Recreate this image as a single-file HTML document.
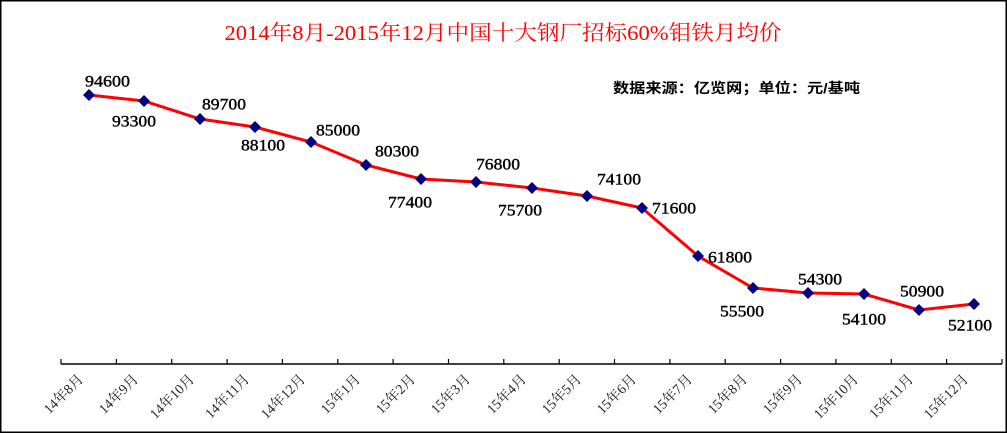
<!DOCTYPE html>
<html><head><meta charset="utf-8"><style>
html,body{margin:0;padding:0;background:#fff}
svg{display:block}
</style></head><body>
<svg width="1007" height="433" xmlns="http://www.w3.org/2000/svg">
<rect x="0.5" y="0.5" width="1006" height="432" fill="#fff" stroke="#000" stroke-width="2"/>
<text x="503" y="40" text-anchor="middle" fill="#ff0000" font-family="Liberation Serif, Noto Serif CJK SC, serif" font-size="21" textLength="557" lengthAdjust="spacingAndGlyphs">2014年8月-2015年12月中国十大钢厂招标60%钼铁月均价</text>
<text x="613" y="93" fill="#000" font-weight="bold" font-family="Liberation Sans, Noto Sans CJK SC, sans-serif" font-size="14" textLength="247" lengthAdjust="spacingAndGlyphs">数据来源：亿览网；单位：元/基吨</text>
<g stroke="#000" stroke-width="1.5">
<line x1="61" y1="364" x2="1002" y2="364"/>
</g>
<g stroke="#000" stroke-width="1.2">
<line x1="61" y1="359" x2="61" y2="364"/><line x1="116.4" y1="359" x2="116.4" y2="364"/><line x1="171.7" y1="359" x2="171.7" y2="364"/><line x1="227.1" y1="359" x2="227.1" y2="364"/><line x1="282.4" y1="359" x2="282.4" y2="364"/><line x1="337.8" y1="359" x2="337.8" y2="364"/><line x1="393.1" y1="359" x2="393.1" y2="364"/><line x1="448.5" y1="359" x2="448.5" y2="364"/><line x1="503.8" y1="359" x2="503.8" y2="364"/><line x1="559.2" y1="359" x2="559.2" y2="364"/><line x1="614.5" y1="359" x2="614.5" y2="364"/><line x1="669.9" y1="359" x2="669.9" y2="364"/><line x1="725.2" y1="359" x2="725.2" y2="364"/><line x1="780.6" y1="359" x2="780.6" y2="364"/><line x1="835.9" y1="359" x2="835.9" y2="364"/><line x1="891.3" y1="359" x2="891.3" y2="364"/><line x1="946.6" y1="359" x2="946.6" y2="364"/><line x1="1002" y1="359" x2="1002" y2="364"/>
</g>
<polyline fill="none" stroke="#ff0000" stroke-width="3" points="89,95 144,101 200,119 255,127 311,142 366,165 421,179 476,182 532,188 587,196 642,208 698,256 753,288 808,293 864,294 919,310 974,304"/>
<g fill="#000080">
<path d="M89 89l6 6-6 6-6-6z"/><path d="M144 95l6 6-6 6-6-6z"/><path d="M200 113l6 6-6 6-6-6z"/><path d="M255 121l6 6-6 6-6-6z"/><path d="M311 136l6 6-6 6-6-6z"/><path d="M366 159l6 6-6 6-6-6z"/><path d="M421 173l6 6-6 6-6-6z"/><path d="M476 176l6 6-6 6-6-6z"/><path d="M532 182l6 6-6 6-6-6z"/><path d="M587 190l6 6-6 6-6-6z"/><path d="M642 202l6 6-6 6-6-6z"/><path d="M698 250l6 6-6 6-6-6z"/><path d="M753 282l6 6-6 6-6-6z"/><path d="M808 287l6 6-6 6-6-6z"/><path d="M864 288l6 6-6 6-6-6z"/><path d="M919 304l6 6-6 6-6-6z"/><path d="M974 298l6 6-6 6-6-6z"/>
</g>
<g font-family="Liberation Serif, serif" font-size="16" fill="#000" stroke="#000" stroke-width="0.4" dominant-baseline="central">
<text x="85" y="82" textLength="45" lengthAdjust="spacingAndGlyphs">94600</text>
<text x="112" y="122" textLength="44" lengthAdjust="spacingAndGlyphs">93300</text>
<text x="202" y="105" textLength="44" lengthAdjust="spacingAndGlyphs">89700</text>
<text x="241" y="146" textLength="44" lengthAdjust="spacingAndGlyphs">88100</text>
<text x="316" y="131" textLength="44" lengthAdjust="spacingAndGlyphs">85000</text>
<text x="375" y="152" textLength="44" lengthAdjust="spacingAndGlyphs">80300</text>
<text x="388" y="203" textLength="44" lengthAdjust="spacingAndGlyphs">77400</text>
<text x="476" y="165" textLength="44" lengthAdjust="spacingAndGlyphs">76800</text>
<text x="498" y="211" textLength="44" lengthAdjust="spacingAndGlyphs">75700</text>
<text x="597" y="180" textLength="44" lengthAdjust="spacingAndGlyphs">74100</text>
<text x="652" y="209" textLength="44" lengthAdjust="spacingAndGlyphs">71600</text>
<text x="708" y="258" textLength="44" lengthAdjust="spacingAndGlyphs">61800</text>
<text x="720" y="312" textLength="44" lengthAdjust="spacingAndGlyphs">55500</text>
<text x="798" y="280" textLength="44" lengthAdjust="spacingAndGlyphs">54300</text>
<text x="842" y="320" textLength="44" lengthAdjust="spacingAndGlyphs">54100</text>
<text x="900" y="292" textLength="44" lengthAdjust="spacingAndGlyphs">50900</text>
<text x="948" y="326" textLength="44" lengthAdjust="spacingAndGlyphs">52100</text>
</g>
<g font-family="Liberation Serif, Noto Serif CJK SC, serif" font-size="14" fill="#222" text-anchor="end">
<text transform="translate(84,380) rotate(-45)">14年8月</text>
<text transform="translate(139,380) rotate(-45)">14年9月</text>
<text transform="translate(195,380) rotate(-45)">14年10月</text>
<text transform="translate(250,380) rotate(-45)">14年11月</text>
<text transform="translate(306,380) rotate(-45)">14年12月</text>
<text transform="translate(361,380) rotate(-45)">15年1月</text>
<text transform="translate(416,380) rotate(-45)">15年2月</text>
<text transform="translate(471,380) rotate(-45)">15年3月</text>
<text transform="translate(527,380) rotate(-45)">15年4月</text>
<text transform="translate(582,380) rotate(-45)">15年5月</text>
<text transform="translate(637,380) rotate(-45)">15年6月</text>
<text transform="translate(693,380) rotate(-45)">15年7月</text>
<text transform="translate(748,380) rotate(-45)">15年8月</text>
<text transform="translate(803,380) rotate(-45)">15年9月</text>
<text transform="translate(859,380) rotate(-45)">15年10月</text>
<text transform="translate(914,380) rotate(-45)">15年11月</text>
<text transform="translate(969,380) rotate(-45)">15年12月</text>
</g>
</svg>
</body></html>
